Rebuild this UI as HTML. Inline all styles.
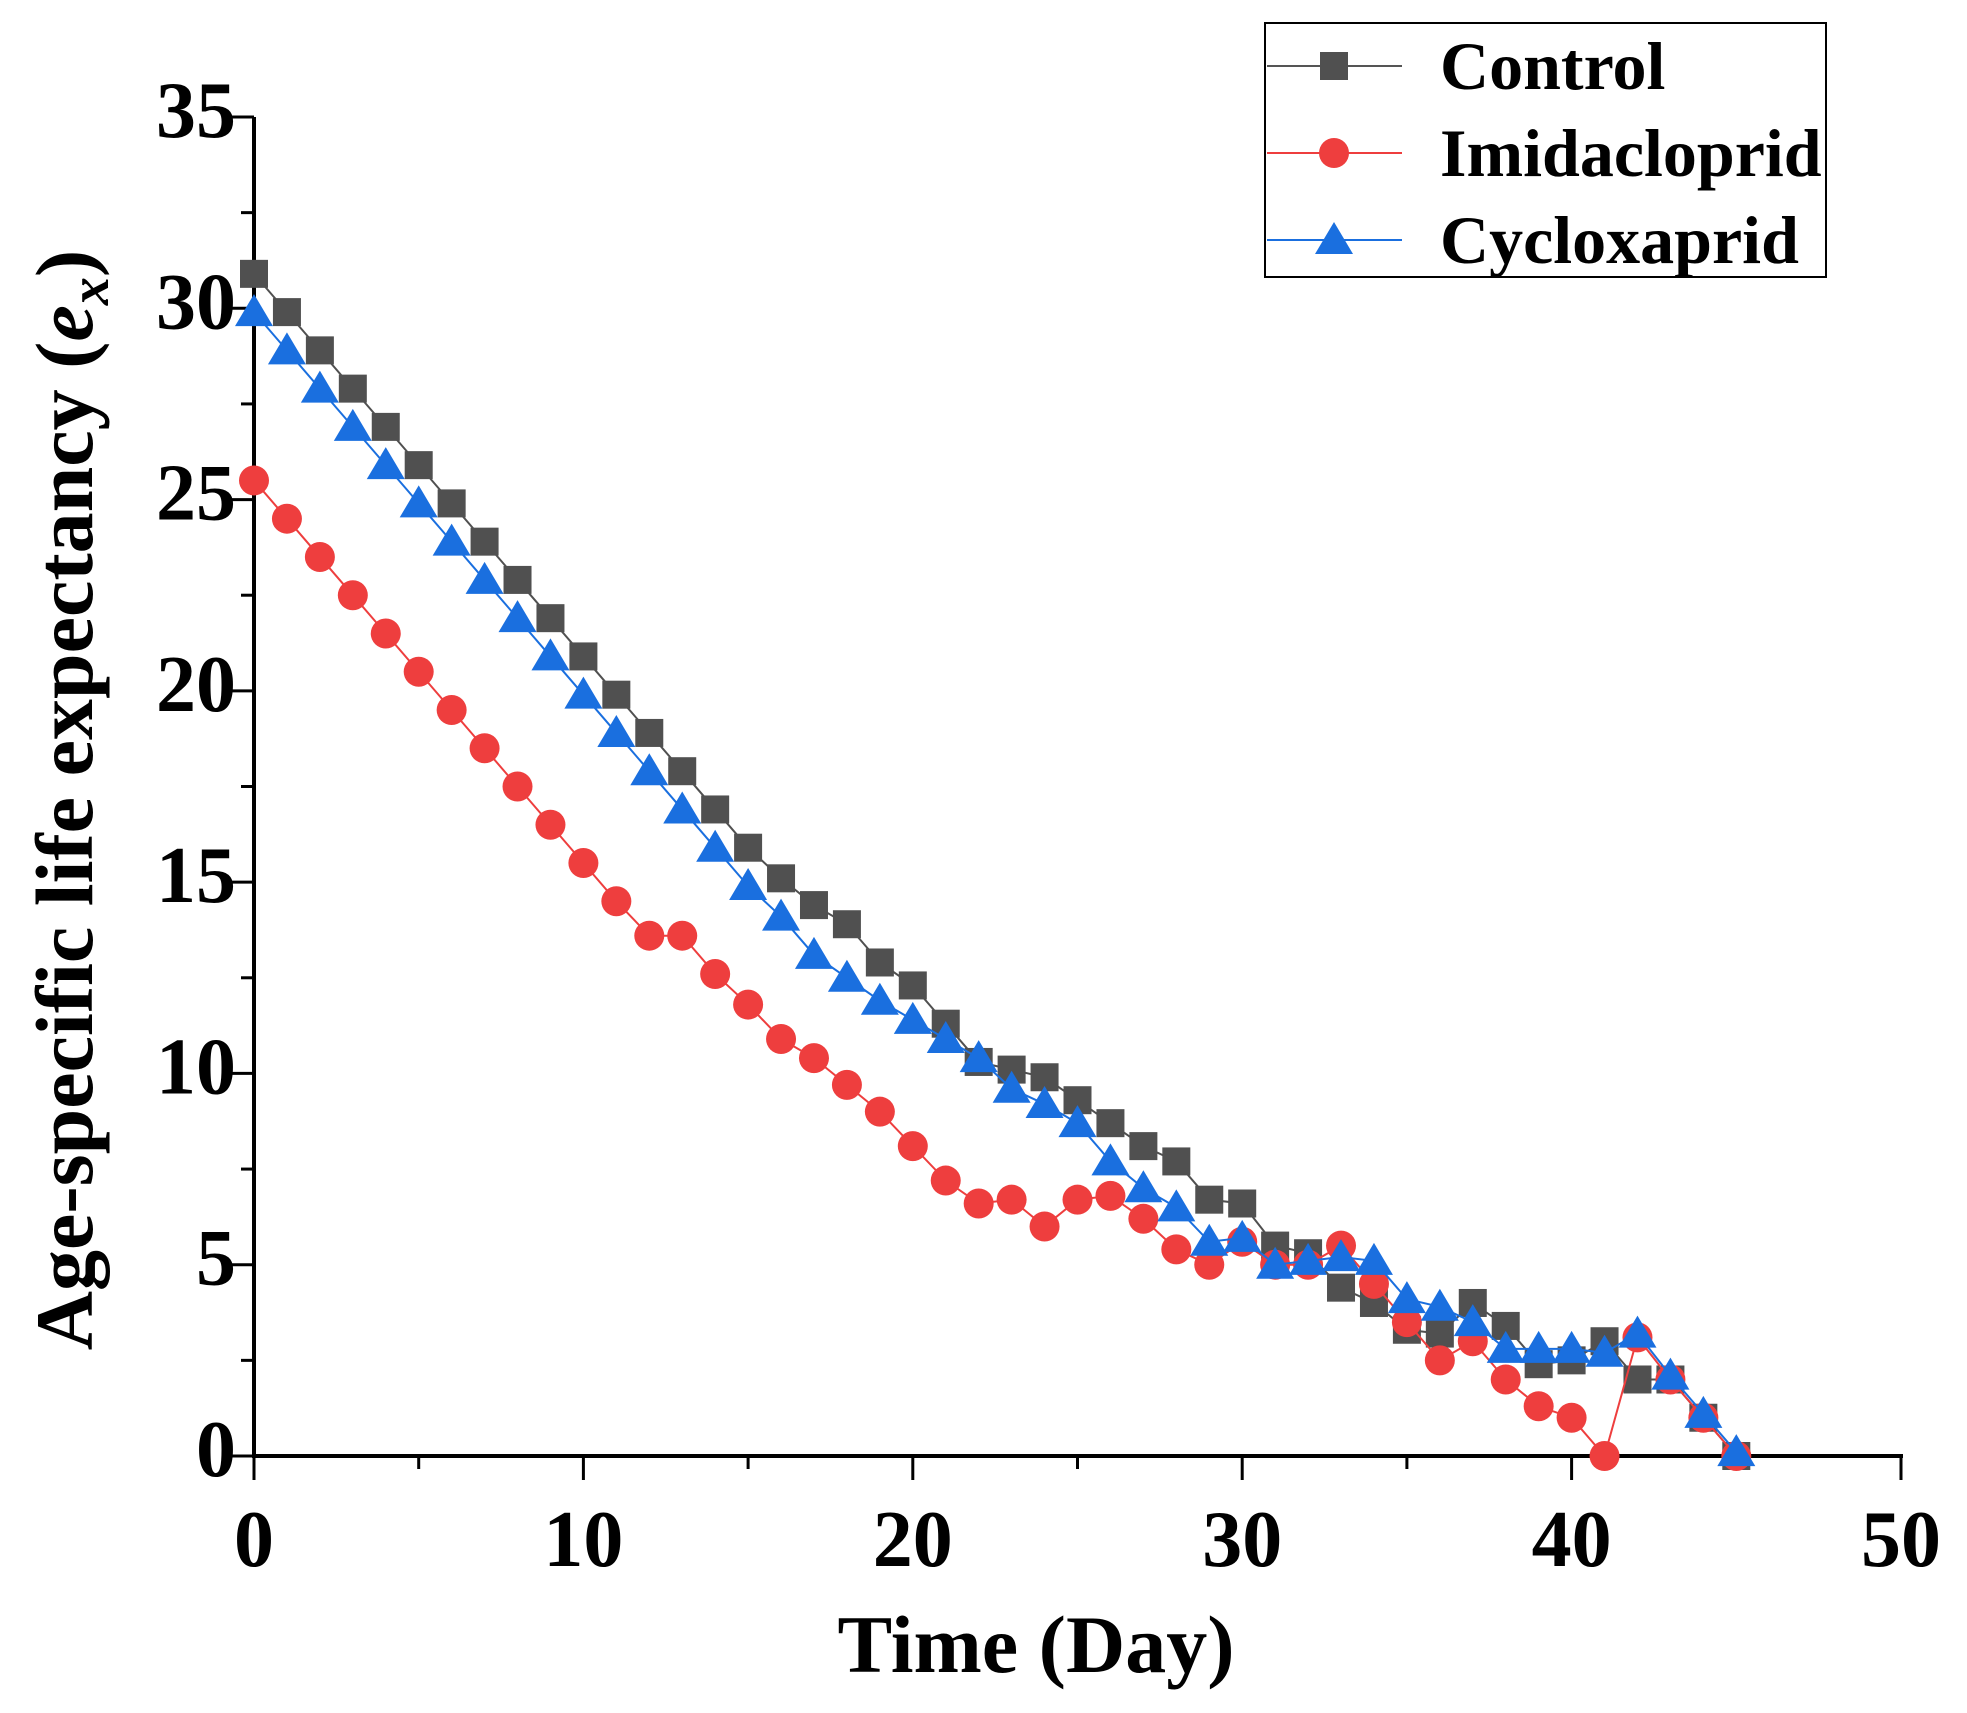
<!DOCTYPE html>
<html><head><meta charset="utf-8"><style>
html,body{margin:0;padding:0;background:#fff;}
svg text{font-family:"Liberation Serif",serif;font-weight:bold;fill:#000;}
</style></head><body>
<svg id="chart" width="1967" height="1708" viewBox="0 0 1967 1708" xmlns="http://www.w3.org/2000/svg">
<g id="axes"></g>
<g id="series"></g>
<text x="1036" y="1672" font-size="82" text-anchor="middle">Time (Day)</text>
<text transform="translate(92,800) rotate(-90)" font-size="82" text-anchor="middle">Age-specific life expectancy (<tspan font-style="italic">e</tspan><tspan font-style="italic" font-size="56" dy="16">x</tspan><tspan dy="-16">)</tspan></text>
<g>
<rect x="1265" y="23" width="561" height="254" fill="#fff" stroke="#000" stroke-width="2"/>
<g>
<line x1="1267" y1="66" x2="1402" y2="66" stroke="#555" stroke-width="2"/>
<rect x="1320" y="52" width="28" height="28" fill="#505050"/>
<text x="1440" y="89" font-size="68">Control</text></g>
<g>
<line x1="1267" y1="153" x2="1402" y2="153" stroke="#ee3e3e" stroke-width="2"/>
<circle cx="1334" cy="153" r="15" fill="#ee3e3e"/>
<text x="1440" y="176" font-size="68">Imidacloprid</text></g>
<g>
<line x1="1267" y1="240" x2="1402" y2="240" stroke="#1a6fdf" stroke-width="2"/>
<polygon points="1334,222 1353,254 1315,254" fill="#1a6fdf"/>
<text x="1440" y="263" font-size="68">Cycloxaprid</text></g>
</g>
</svg>
<script>
const days = Array.from({length:46},(_,i)=>i);
const control = [30.9,29.9,28.9,27.9,26.9,25.9,24.9,23.9,22.9,21.9,20.9,19.9,18.9,17.9,16.9,15.9,15.1,14.4,13.9,12.9,12.3,11.3,10.3,10.1,9.9,9.3,8.7,8.1,7.7,6.7,6.6,5.5,5.3,4.4,4.0,3.3,3.2,4.0,3.4,2.4,2.5,3.0,2.0,2.0,1.0,0];
const imidacloprid = [25.5,24.5,23.5,22.5,21.5,20.5,19.5,18.5,17.5,16.5,15.5,14.5,13.6,13.6,12.6,11.8,10.9,10.4,9.7,9.0,8.1,7.2,6.6,6.7,6.0,6.7,6.8,6.2,5.4,5.0,5.6,5.0,5.0,5.5,4.5,3.5,2.5,3.0,2.0,1.3,1.0,0,3.1,2.0,1.0,0];
const cycloxaprid = [29.9,28.9,27.9,26.9,25.9,24.9,23.9,22.9,21.9,20.9,19.9,18.9,17.9,16.9,15.9,14.9,14.1,13.1,12.5,11.9,11.4,10.9,10.4,9.6,9.2,8.7,7.7,7.0,6.5,5.6,5.7,5.0,5.1,5.2,5.1,4.1,3.9,3.5,2.8,2.8,2.8,2.7,3.2,2.1,1.1,0.1];
const xTicks = [0,10,20,30,40,50];
const yTicks = [0,5,10,15,20,25,30,35];

const NS='http://www.w3.org/2000/svg';
const X0=254,X1=1901,Y0=1456,Y1=117;
const sx=v=>X0+(v-0)/50*(X1-X0);
const sy=v=>Y0-(v-0)/35*(Y0-Y1);
function mk(tag,attrs,parent){const e=document.createElementNS(NS,tag);for(const k in attrs)e.setAttribute(k,attrs[k]);parent.appendChild(e);return e;}
const axes=document.getElementById('axes');
let e;
e=mk('line',{x1:X0,y1:Y1,x2:X0,y2:Y0+2,stroke:'#000','stroke-width':4},axes);


e=mk('line',{x1:X0-2,y1:Y0,x2:X1+2,y2:Y0,stroke:'#000','stroke-width':4},axes);


for(let v=0;v<=50;v+=5){const major=v%10===0;
 e=mk('line',{x1:sx(v),y1:Y0,x2:sx(v),y2:Y0+(major?24:13),stroke:'#000','stroke-width':3},axes);
 
 }
xTicks.forEach(v=>{e=mk('text',{x:sx(v),y:1566,'font-size':80,'text-anchor':'middle'},axes);e.textContent=v;
 
 });
for(let v=0;v<=35;v+=2.5){const major=v%5===0;
 e=mk('line',{x1:X0,y1:sy(v),x2:X0-(major?24:13),y2:sy(v),stroke:'#000','stroke-width':3},axes);
 
 }
yTicks.forEach(v=>{e=mk('text',{x:236,y:sy(v)+20,'font-size':80,'text-anchor':'end'},axes);e.textContent=v;
 
 });
const ser=document.getElementById('series');
function drawSeries(vals,color,shape,name){
 const g=mk('g',{},ser);
 
 
 const pts=vals.map((v,i)=>sx(days[i])+','+sy(v)).join(' ');
 e=mk('polyline',{points:pts,fill:'none',stroke:color,'stroke-width':2},g);
 
 
 vals.forEach((v,i)=>{const x=sx(days[i]),y=sy(v);let m;
  if(shape==='sq')m=mk('rect',{x:x-14,y:y-14,width:28,height:28,fill:color},g);
  else if(shape==='c')m=mk('circle',{cx:x,cy:y,r:15,fill:color},g);
  else m=mk('polygon',{points:`${x},${y-18} ${x+19},${y+14} ${x-19},${y+14}`,fill:color},g);
  
  });
}
drawSeries(control,'#505050','sq','control');
drawSeries(imidacloprid,'#ee3e3e','c','imidacloprid');
drawSeries(cycloxaprid,'#1a6fdf','t','cycloxaprid');
</script>
</body></html>
